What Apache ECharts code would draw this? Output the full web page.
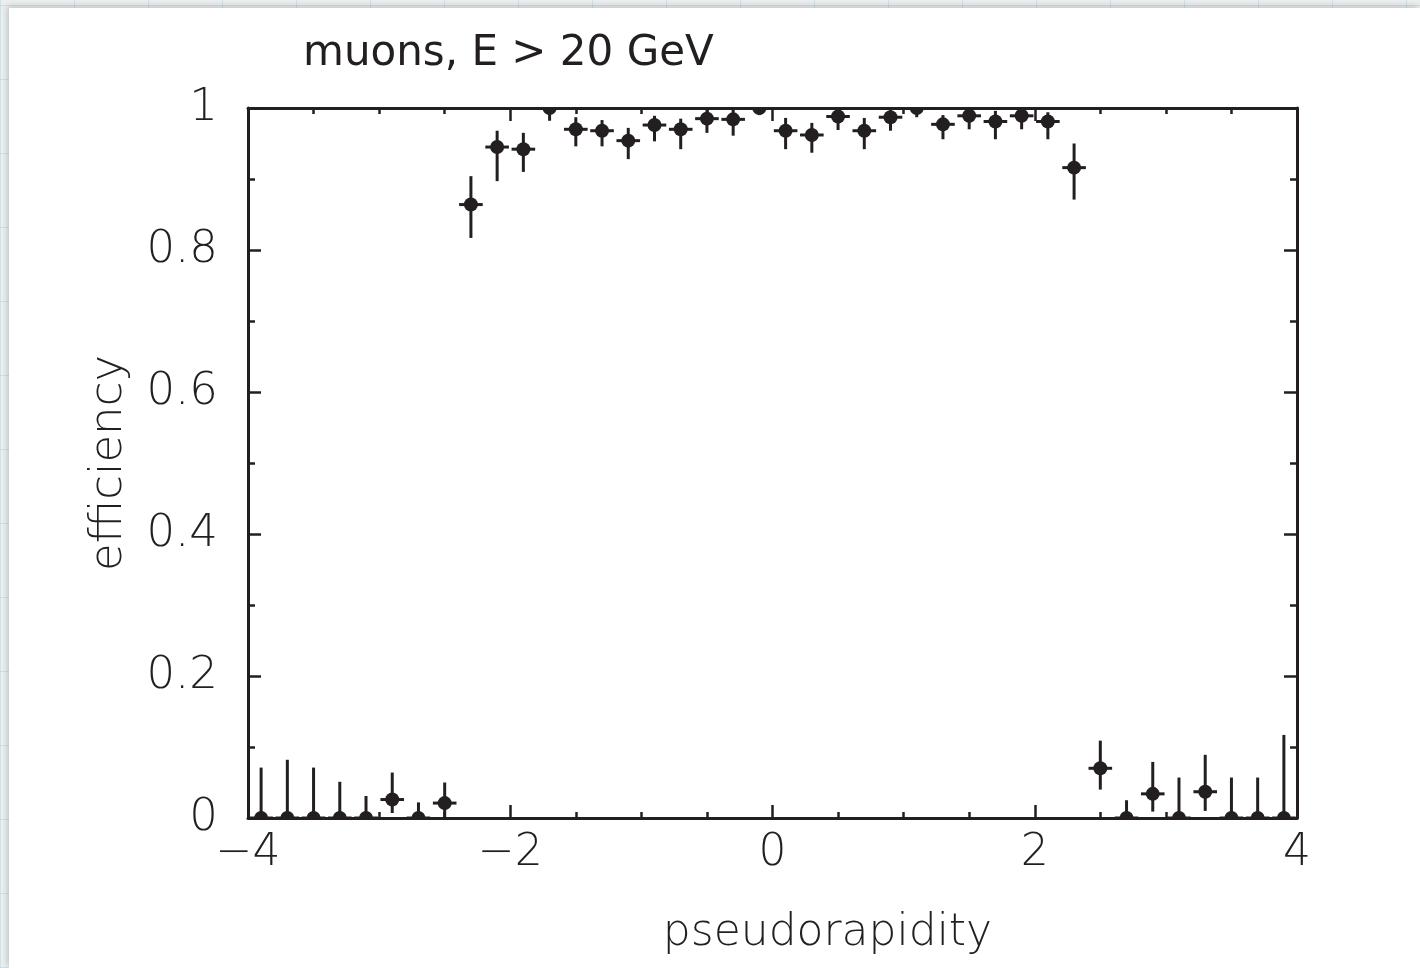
<!DOCTYPE html>
<html>
<head>
<meta charset="utf-8">
<script src="https://cdn.jsdelivr.net/npm/echarts@6/dist/echarts.min.js"></script>
<style>
  html, body { margin: 0; padding: 0; width: 1420px; height: 968px; overflow: hidden; }
  body {
    background-color: #eceff0;
    background-image:
      repeating-linear-gradient(0deg, rgba(160,200,215,0.35) 0 1px, transparent 1px 74px),
      repeating-linear-gradient(90deg, rgba(160,200,215,0.35) 0 1px, transparent 1px 74px);
  }
  #panel { position: absolute; left: 9px; top: 8px; right: 0; bottom: 0; background: #ffffff;
           box-shadow: -2px -2px 6px rgba(0,0,0,0.18); }
  #chart { position: absolute; left: 0; top: 0; width: 1420px; height: 968px; }
</style>
</head>
<body>
<div id="panel"></div>
<div id="chart"></div>
<script>
// bin centres (pseudorapidity)
const eta = [-3.9,-3.7,-3.5,-3.3,-3.1,-2.9,-2.7,-2.5,-2.3,-2.1,-1.9,-1.7,-1.5,-1.3,-1.1,-0.9,-0.7,-0.5,-0.3,-0.1,
              0.1, 0.3, 0.5, 0.7, 0.9, 1.1, 1.3, 1.5, 1.7, 1.9, 2.1, 2.3, 2.5, 2.7, 2.9, 3.1, 3.3, 3.5, 3.7, 3.9];
// efficiency
const eff = [0, 0, 0, 0, 0, 0.026, 0, 0.021, 0.864, 0.945, 0.942, 1.0, 0.970, 0.968, 0.954, 0.976, 0.970, 0.985, 0.984, 1.0,
             0.968, 0.962, 0.988, 0.968, 0.987, 1.0, 0.977, 0.989, 0.981, 0.989, 0.981, 0.916, 0.070, 0, 0.034, 0, 0.037, 0, 0, 0];
// upper end of error bar
const effHigh = [0.071, 0.082, 0.071, 0.051, 0.031, 0.064, 0.022, 0.050, 0.904, 0.968, 0.965, 1.0, 0.987, 0.983, 0.972, 0.989, 0.985, 0.997, 1.0, 1.0,
                 0.986, 0.979, 1.0, 0.986, 0.997, 1.0, 0.990, 0.999, 0.996, 0.999, 0.994, 0.950, 0.109, 0.025, 0.079, 0.057, 0.089, 0.057, 0.057, 0.117];
// lower end of error bar
const effLow = [0, 0, 0, 0, 0, 0.007, 0, 0, 0.817, 0.897, 0.910, 0.982, 0.946, 0.946, 0.928, 0.953, 0.942, 0.965, 0.961, 0.990,
                0.942, 0.937, 0.969, 0.942, 0.968, 0.987, 0.956, 0.970, 0.956, 0.970, 0.956, 0.871, 0.040, 0, 0.009, 0, 0.010, 0, 0, 0];
// half width of horizontal bar (in eta units)
const xHalf = 0.09;

const xTicks = { min: -4, max: 4, interval: 2 };
const yTicks = { min: 0, max: 1, interval: 0.2 };

const INK = '#231f20';
const FONT = '"DejaVu Sans", sans-serif';
const LIGHT = 200;

const data = eta.map((x, i) => [x, eff[i], effLow[i], effHigh[i]]);

const chart = echarts.init(document.getElementById('chart'), null, { renderer: 'canvas' });

function axisCommon(pos) {
  return {
    position: pos,
    axisLine: { show: true, onZero: false, lineStyle: { color: INK, width: 3 } },
    axisTick: { show: true, inside: true, length: 13, lineStyle: { color: INK, width: 2.5 } },
    splitLine: { show: false },
    minorSplitLine: { show: false }
  };
}

const fmtX = v => (v < 0 ? '\u2212' + Math.abs(v) : String(v));

chart.setOption({
  animation: false,
  backgroundColor: 'transparent',
  title: {
    text: 'muons, E > 20 GeV',
    left: 298, top: 28,
    textStyle: { fontFamily: FONT, fontSize: 42, fontWeight: 'normal', color: INK }
  },
  grid: { left: 248, right: 123, top: 108, bottom: 150, containLabel: false },
  xAxis: [
    Object.assign(axisCommon('bottom'), {
      type: 'value', min: xTicks.min, max: xTicks.max, interval: xTicks.interval,
      minorTick: { show: true, splitNumber: 4, length: 6, lineStyle: { color: INK, width: 2.5 } },
      name: 'pseudorapidity', nameLocation: 'middle', nameGap: 94,
      nameTextStyle: { fontFamily: FONT, fontSize: 44, fontWeight: LIGHT, color: INK, padding: [0, 0, 0, 110] },
      axisLabel: { show: true, margin: 14, formatter: fmtX, fontFamily: FONT, fontSize: 44, fontWeight: LIGHT, color: INK }
    }),
    Object.assign(axisCommon('top'), {
      type: 'value', min: xTicks.min, max: xTicks.max, interval: xTicks.interval,
      minorTick: { show: true, splitNumber: 4, length: 6, lineStyle: { color: INK, width: 2.5 } },
      axisLabel: { show: false }
    })
  ],
  yAxis: [
    Object.assign(axisCommon('left'), {
      type: 'value', min: yTicks.min, max: yTicks.max, interval: yTicks.interval,
      minorTick: { show: true, splitNumber: 2, length: 7, lineStyle: { color: INK, width: 2.5 } },
      name: 'efficiency', nameLocation: 'middle', nameGap: 116, nameRotate: 90,
      nameTextStyle: { fontFamily: FONT, fontSize: 45, fontWeight: LIGHT, color: INK },
      axisLabel: { show: true, margin: 30, fontFamily: FONT, fontSize: 45, fontWeight: LIGHT, color: INK,
                   padding: [0, 0, 26, 0] }
    }),
    Object.assign(axisCommon('right'), {
      type: 'value', min: yTicks.min, max: yTicks.max, interval: yTicks.interval,
      minorTick: { show: true, splitNumber: 2, length: 7, lineStyle: { color: INK, width: 2.5 } },
      axisLabel: { show: false }
    })
  ],
  series: [{
    type: 'custom',
    clip: true,
    xAxisIndex: 0, yAxisIndex: 0,
    data: data,
    encode: { x: 0, y: [1, 2, 3] },
    renderItem: function (params, api) {
      const x = api.value(0), y = api.value(1), lo = api.value(2), hi = api.value(3);
      const c = api.coord([x, y]);
      const pLo = api.coord([x, lo]);
      const pHi = api.coord([x, hi]);
      const pL = api.coord([x - xHalf, y]);
      const pR = api.coord([x + xHalf, y]);
      const st = { stroke: INK, lineWidth: 3, fill: null };
      return {
        type: 'group',
        children: [
          { type: 'line', shape: { x1: pLo[0], y1: pLo[1], x2: pHi[0], y2: pHi[1] }, style: st },
          { type: 'line', shape: { x1: pL[0], y1: pL[1], x2: pR[0], y2: pR[1] }, style: st },
          { type: 'circle', shape: { cx: c[0], cy: c[1], r: 7 }, style: { fill: INK } }
        ]
      };
    }
  }]
});
</script>
</body>
</html>
